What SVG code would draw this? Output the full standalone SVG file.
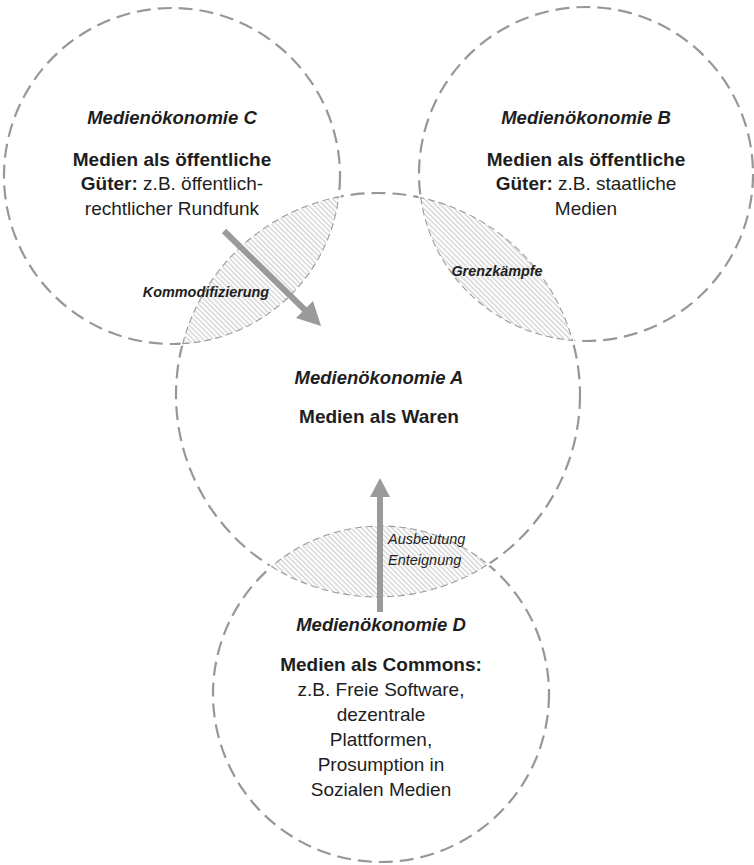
<svg xmlns="http://www.w3.org/2000/svg" width="754" height="865" viewBox="0 0 754 865">
<style>
.circ{fill:none;stroke:#979797;stroke-width:2.2;stroke-dasharray:14 7}
.lenscover{fill:#fff;stroke:#fff;stroke-width:4}
.lens{fill:url(#hatch);stroke:#9a9a9a;stroke-width:1.1;stroke-dasharray:7 4}
text{font-family:"Liberation Sans",Arial,sans-serif;fill:#1e1e1e;text-anchor:middle}
.t{font-size:18.5px;font-weight:bold;font-style:italic}
.b{font-size:19px;font-weight:bold}
.r{font-size:19px}
.lbl{font-size:14.4px;font-weight:bold;font-style:italic}
.lbl2{font-size:14.5px;font-style:italic;text-anchor:start}
.arrow{stroke:#9a9a9a;stroke-width:6;fill:none}
.head{fill:#9a9a9a}
</style>
<defs>
<pattern id="hatch" patternUnits="userSpaceOnUse" width="3.6" height="3.6" patternTransform="rotate(-45)">
<rect width="3.6" height="3.6" fill="#fff"/>
<line x1="1" y1="0" x2="1" y2="3.6" stroke="#bdbdbd" stroke-width="0.9"/>
</pattern>
</defs>
<g id="circles">
<circle id="circle-C" class="circ" cx="172" cy="176" r="168"/>
<circle id="circle-B" class="circ" cx="586" cy="174" r="167"/>
<circle id="circle-A" class="circ" cx="378" cy="395" r="202"/>
<circle id="circle-D" class="circ" cx="381" cy="694" r="168"/>
</g>
<g id="lens-CA">
<path class="lenscover" d="M182.7,343.7 A168,168 0 0 0 338.7,196.9 A202,202 0 0 0 182.7,343.7 Z"/>
<path class="lens" d="M182.7,343.7 A168,168 0 0 0 338.7,196.9 A202,202 0 0 0 182.7,343.7 Z"/>
</g>
<g id="lens-AB">
<path class="lenscover" d="M420.7,197.6 A167,167 0 0 0 572.5,340.4 A202,202 0 0 0 420.7,197.6 Z"/>
<path class="lens" d="M420.7,197.6 A167,167 0 0 0 572.5,340.4 A202,202 0 0 0 420.7,197.6 Z"/>
</g>
<g id="lens-AD">
<path class="lenscover" d="M271.5,566.6 A202,202 0 0 0 487.9,564.4 A168,168 0 0 0 271.5,566.6 Z"/>
<path class="lens" d="M271.5,566.6 A202,202 0 0 0 487.9,564.4 A168,168 0 0 0 271.5,566.6 Z"/>
</g>
<g id="connectors">
<g id="arrow-C-A">
<line class="arrow" x1="224" y1="231" x2="306" y2="311"/>
<polygon class="head" points="321,326 296,318 313,301"/>
</g>
<g id="arrow-D-A">
<line class="arrow" x1="380" y1="612" x2="380" y2="494"/>
<polygon class="head" points="380,478 370,497 390,497"/>
</g>
</g>
<g id="node-C">
<text class="t" x="172" y="124">Medienökonomie C</text>
<text class="b" x="172" y="166">Medien als öffentliche</text>
<text class="r" x="172" y="190"><tspan font-weight="bold">Güter:</tspan> z.B. öffentlich-</text>
<text class="r" x="172" y="215">rechtlicher Rundfunk</text>
</g>
<g id="node-B">
<text class="t" x="586" y="124">Medienökonomie B</text>
<text class="b" x="586" y="166">Medien als öffentliche</text>
<text class="r" x="586" y="190"><tspan font-weight="bold">Güter:</tspan> z.B. staatliche</text>
<text class="r" x="586" y="215">Medien</text>
</g>
<g id="node-A">
<text class="t" x="379" y="384">Medienökonomie A</text>
<text class="b" x="379" y="423">Medien als Waren</text>
</g>
<g id="node-D">
<text class="t" x="381" y="631">Medienökonomie D</text>
<text class="b" x="381" y="671">Medien als Commons:</text>
<text class="r" x="381" y="696">z.B. Freie Software,</text>
<text class="r" x="381" y="721">dezentrale</text>
<text class="r" x="381" y="746">Plattformen,</text>
<text class="r" x="381" y="771">Prosumption in</text>
<text class="r" x="381" y="796">Sozialen Medien</text>
</g>
<g id="labels">
<text class="lbl" x="206" y="297">Kommodifizierung</text>
<text class="lbl" x="497" y="276">Grenzkämpfe</text>
<text class="lbl2" x="388" y="544">Ausbeutung</text>
<text class="lbl2" x="388" y="565">Enteignung</text>
</g>
</svg>
